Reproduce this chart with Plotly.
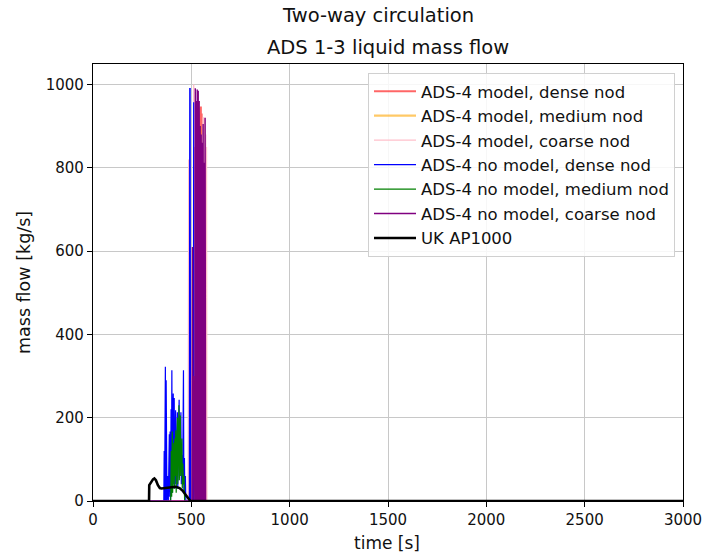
import plotly.graph_objects as go

# ---------------- data ----------------
x_ticks = [0, 500, 1000, 1500, 2000, 2500, 3000]
y_ticks = [0, 200, 400, 600, 800, 1000]

names = [
    "ADS-4 model, dense nod",
    "ADS-4 model, medium nod",
    "ADS-4 model, coarse nod",
    "ADS-4 no model, dense nod",
    "ADS-4 no model, medium nod",
    "ADS-4 no model, coarse nod",
    "UK AP1000",
]

# ADS-4 model, dense nod
red_t = [0, 512, 515, 517, 520, 522, 525, 527, 530, 532, 535, 537, 540, 542, 545, 547, 548, 550,
         552, 554, 556, 558, 560, 562, 3000]
red_v = [0, 0, 700, 0, 850, 0, 900, 0, 880, 0, 920, 0, 900, 0, 930, 0, 947, 0,
         930, 0, 850, 0, 700, 0, 0]

# ADS-4 model, medium nod
orange_t = [0, 512, 515, 517, 520, 522, 525, 527, 530, 532, 535, 537, 540, 542, 545, 547, 550, 552,
            555, 557, 3000]
orange_v = [0, 0, 600, 0, 750, 0, 820, 0, 860, 0, 880, 0, 870, 0, 900, 0, 860, 0,
            780, 0, 0]

# ADS-4 model, coarse nod
pink_t = [0, 484, 487, 489, 508, 510, 512, 514, 555, 557, 559, 561, 563, 565, 567, 569, 571, 573,
          575, 577, 579, 3000]
pink_v = [0, 0, 820, 0, 400, 0, 1000, 0, 0, 880, 0, 921, 0, 900, 0, 920, 0, 880,
          0, 850, 0, 0]

# ADS-4 no model, dense nod
blue_t = [0, 360, 362, 364, 368, 370, 372, 374, 376, 380, 383, 388, 390, 392, 394, 397, 399, 401,
          403, 406, 408, 410, 413, 415, 418, 420, 422, 426, 429, 431, 435, 438, 440, 444, 447, 449,
          453, 456, 460, 462, 465, 467, 470, 472, 490, 492, 494, 496, 510, 512, 514, 3000]
blue_v = [0, 0, 120, 0, 322, 0, 290, 40, 0, 60, 0, 160, 10, 167, 0, 220, 30, 314,
          20, 200, 258, 40, 247, 30, 180, 218, 40, 150, 213, 30, 120, 243, 60, 180, 213, 40,
          110, 60, 314, 20, 103, 10, 60, 0, 0, 990, 990, 0, 0, 957, 0, 0]

# ADS-4 no model, medium nod
green_t = [0, 395, 398, 400, 403, 405, 408, 411, 413, 416, 418, 421, 423, 426, 429, 431, 434, 437,
           439, 442, 444, 446, 449, 452, 454, 457, 460, 463, 466, 3000]
green_v = [0, 0, 120, 10, 167, 20, 90, 140, 30, 150, 60, 170, 20, 130, 200, 40, 160, 230,
           50, 180, 205, 60, 120, 150, 30, 90, 40, 60, 0, 0]

# ADS-4 no model, coarse nod
purple_t = [0, 503, 506, 509, 511, 518, 520, 522.5, 525, 527.5, 530, 532.5, 535, 537.5, 540, 542.5,
            545, 547.5, 550, 552.5, 555, 557.5, 560, 562.5, 565, 567.5, 570, 572.5, 575, 3000]
purple_v = [0, 0, 610, 0, 300, 0, 991, 0, 960, 0, 988, 0, 985, 0, 960, 0,
            900, 0, 880, 0, 860, 0, 905, 0, 812, 0, 920, 0, 0, 0]

# UK AP1000
ap_t = [0, 285, 286, 295, 305, 312, 320, 330, 340, 348, 360, 380, 400, 420, 440, 455, 470, 485,
        495, 3000]
ap_v = [0, 0, 38, 45, 52, 54, 50, 38, 31, 30, 31, 31, 33, 34, 31, 25, 16, 6,
        0, 0]

series_t = [red_t, orange_t, pink_t, blue_t, green_t, purple_t, ap_t]
series_v = [red_v, orange_v, pink_v, blue_v, green_v, purple_v, ap_v]

# ---------------- styles ----------------
colors = ["rgba(255,0,0,0.6)", "rgba(255,165,0,0.6)", "#ffc0cb", "#0000ff",
          "#008000", "#800080", "#000000"]
widths = [2.2, 2.2, 1.4, 1.2, 1.2, 1.4, 2.6]

FONT = "DejaVu Sans"

fig = go.Figure()
for n, t, v, c, w in zip(names, series_t, series_v, colors, widths):
    fig.add_trace(go.Scatter(x=t, y=v, mode="lines", name=n,
                             line=dict(color=c, width=w)))

L, R, T, B = 93, 19, 64, 53
W, H = 702, 554
ph = H - T - B

def py(ypx):
    return (H - B - ypx) / ph

def px(xpx):
    return (xpx - L) / (W - L - R)

axis_common = dict(showgrid=True, gridcolor="#c8c8c8", gridwidth=1.2,
                   showline=True, linecolor="black", linewidth=1.2, mirror=True,
                   ticks="outside", ticklen=5, tickcolor="black", tickwidth=1,
                   zeroline=False, automargin=False,
                   tickfont=dict(family=FONT, size=15, color="#111"))

fig.update_layout(
    width=W, height=H,
    margin=dict(l=L, r=R, t=T, b=B, autoexpand=False),
    paper_bgcolor="white", plot_bgcolor="white",
    font=dict(family=FONT, size=15, color="#111"),
    showlegend=True,
    legend=dict(x=px(368), y=py(73), xanchor="left", yanchor="top",
                bgcolor="rgba(255,255,255,0.85)", bordercolor="#d0d0d0", borderwidth=1,
                font=dict(family=FONT, size=16.5, color="#111"),
                itemwidth=42, tracegroupgap=0),
    xaxis=dict(range=[0, 3000], tickvals=x_ticks, ticklabeloverflow="allow", **axis_common),
    yaxis=dict(range=[0, 1049], tickvals=y_ticks, **axis_common),
    annotations=[
        dict(text="Two-way circulation", x=px(378), y=py(15), xref="paper", yref="paper",
             showarrow=False, xanchor="center", yanchor="middle",
             font=dict(family=FONT, size=19.5, color="#111")),
        dict(text="ADS 1-3 liquid mass flow", x=px(388), y=py(47), xref="paper", yref="paper",
             showarrow=False, xanchor="center", yanchor="middle",
             font=dict(family=FONT, size=19.5, color="#111")),
        dict(text="mass flow [kg/s]", x=px(24), y=py(283), xref="paper", yref="paper",
             showarrow=False, xanchor="center", yanchor="middle", textangle=-90,
             font=dict(family=FONT, size=17.5, color="#111")),
        dict(text="time [s]", x=px(387), y=py(543), xref="paper", yref="paper",
             showarrow=False, xanchor="center", yanchor="middle",
             font=dict(family=FONT, size=17, color="#111")),
    ],
)

fig.write_html("out.html")
